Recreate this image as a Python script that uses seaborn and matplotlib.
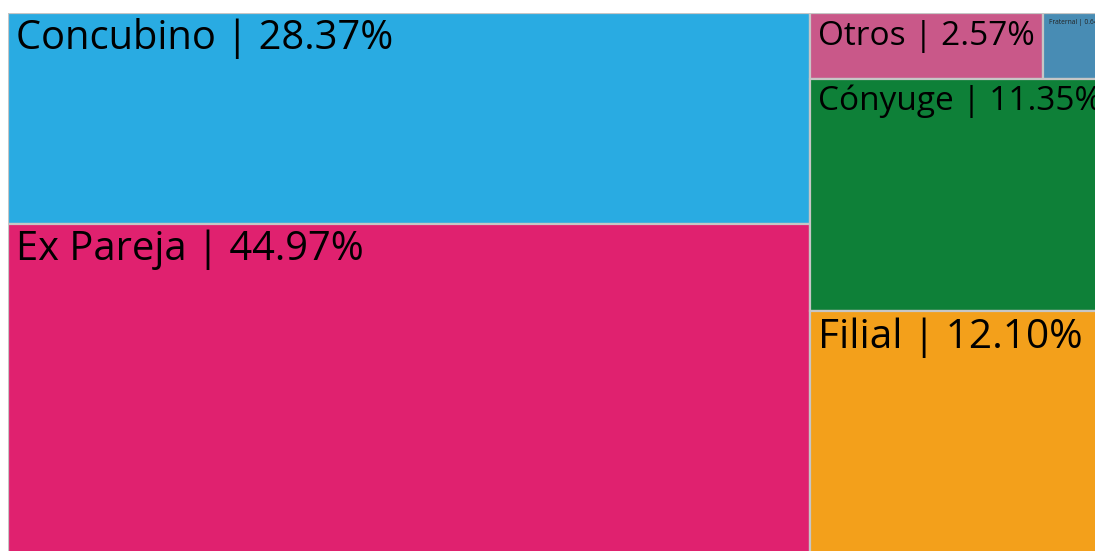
import matplotlib
matplotlib.use("Agg")
import matplotlib.pyplot as plt
import matplotlib.patches as mpatches
import seaborn as sns

# ---- data ----
categories = ["Concubino", "Ex Pareja", "Otros", "Fraternal", "Cónyuge", "Filial"]
percentages = [28.37, 44.97, 2.57, 0.64, 11.35, 12.10]
colors = ["#29abe2", "#e0216f", "#c95889", "#488cb4", "#0e8038", "#f3a01b"]

# tiling structure (which categories share a column / row)
tiling = [["Concubino", "Ex Pareja"], [["Otros", "Fraternal"], "Cónyuge", "Filial"]]

# label font sizes (pt) per category
label_sizes = {"Concubino": 28.7, "Ex Pareja": 28.7, "Filial": 29.2,
               "Cónyuge": 24, "Otros": 24, "Fraternal": 4.8}

sns.set_theme(style="white")
plt.rcParams["font.family"] = ["Open Sans", "DejaVu Sans"]

value_of = dict(zip(categories, percentages))
color_of = dict(zip(categories, colors))

def total(node):
    if isinstance(node, str):
        return value_of[node]
    return sum(total(n) for n in node)

def slice_dice(node, x, y, w, h, horizontal, out):
    """Recursive slice-and-dice; horizontal=True splits left->right,
    False splits top->bottom (y axis points down here)."""
    if isinstance(node, str):
        out[node] = (x, y, w, h)
        return
    tot = total(node)
    pos = 0.0
    for child in node:
        frac = total(child) / tot
        if horizontal:
            slice_dice(child, x + pos * w, y, frac * w, h, not horizontal, out)
        else:
            slice_dice(child, x, y + pos * h, w, frac * h, not horizontal, out)
        pos += frac

W, H = 1093.5, 545.5
rects = {}
slice_dice(tiling, 0, 0, W, H, True, rects)

# ---- draw ----
fig = plt.figure(figsize=(10.95, 5.51), dpi=100)
fig.patch.set_facecolor("white")
ax = fig.add_axes([8 / 1095, (551 - 558.5) / 551, W / 1095, H / 551])
ax.set_xlim(0, W)
ax.set_ylim(H, 0)
ax.axis("off")

for cat in categories:
    rx, ry, rw, rh = rects[cat]
    fs = label_sizes[cat]
    patch = mpatches.Rectangle((rx, ry), rw, rh, facecolor=color_of[cat],
                               edgecolor="#c6c6c6", linewidth=1.6)
    ax.add_patch(patch)
    px = fs * 100 / 72
    big = fs > 10
    pad_x = 8 if big else 6
    pad_y = 8 if big else 6
    t = ax.text(rx + pad_x, ry + pad_y + 0.714 * px, f"{cat} | {value_of[cat]:.2f}%",
                fontsize=fs, color="black" if big else "#222222",
                ha="left", va="baseline")
    t.set_clip_path(patch)

fig.savefig("out.png", dpi=100, facecolor="white")
